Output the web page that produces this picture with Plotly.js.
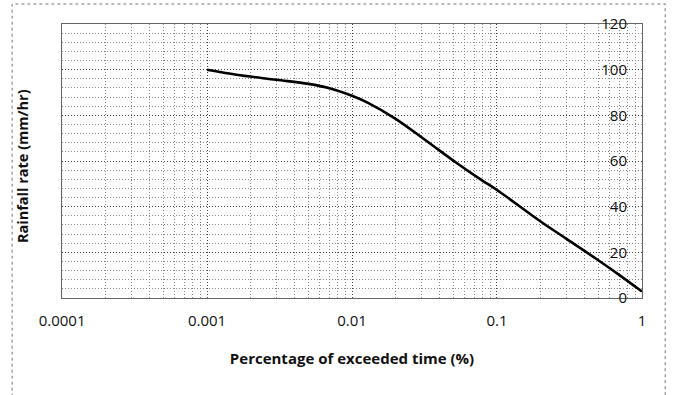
<!DOCTYPE html>
<html>
<head>
<meta charset="utf-8">
<script src="https://cdn.plot.ly/plotly-3.0.1.min.js"></script>
<style>html,body{margin:0;padding:0;background:#fff;}#chart{width:674px;height:395px;}</style>
</head>
<body>
<div id="chart"></div>
<script>
// Data
var exceededTime = [0.001, 0.0016, 0.003, 0.005, 0.007, 0.01, 0.013, 0.02, 0.032, 0.053, 0.078, 0.1, 0.2, 0.3, 0.5, 0.7, 1];
var rainfallRate = [100, 97.8, 95.6, 93.8, 91.9, 88.6, 85.4, 78.5, 69.2, 59, 51.7, 47.3, 33.5, 26, 16.5, 10, 2.8];
var xTickVals = [0.0001, 0.001, 0.01, 0.1, 1];
var xTickText = ['0.0001', '0.001', '0.01', '0.1', '1'];
var xMinorVals = [];
for (var d = -4; d < 0; d++) {
  for (var m = 2; m <= 9; m++) xMinorVals.push(m * Math.pow(10, d));
}

var fontFam = '"Open Sans", Lato, sans-serif';
var dotDash = '1px,2px';

var trace = {
  x: exceededTime,
  y: rainfallRate,
  type: 'scatter',
  mode: 'lines',
  line: {color: '#000', width: 2.6, shape: 'spline', smoothing: 1},
  hoverinfo: 'x+y'
};

var layout = {
  width: 674,
  height: 395,
  margin: {l: 62, r: 32, t: 24, b: 97},
  paper_bgcolor: '#fff',
  plot_bgcolor: '#fff',
  showlegend: false,
  font: {family: fontFam, color: '#111', size: 14},
  xaxis: {
    type: 'log',
    range: [-4.0005, 0.0005],
    tickmode: 'array',
    tickvals: xTickVals,
    ticktext: xTickText,
    ticks: '',
    ticklabelstandoff: 9,
    ticklabeloverflow: 'allow',
    tickfont: {size: 15, family: fontFam, color: '#111'},
    showgrid: true,
    gridcolor: '#444',
    griddash: dotDash,
    gridwidth: 1,
    minor: {tickmode: 'array', tickvals: xMinorVals, showgrid: true, gridcolor: '#888', griddash: dotDash, gridwidth: 1, ticks: ''},
    showline: true,
    linecolor: '#666',
    linewidth: 1,
    mirror: true,
    zeroline: false,
    title: {text: '<b>Percentage of exceeded time (%)</b>', font: {size: 15, family: fontFam, color: '#111'}, standoff: 24}
  },
  yaxis: {
    range: [-0.05, 120.05],
    dtick: 20,
    side: 'right',
    ticklabelposition: 'inside',
    ticklabeloverflow: 'allow',
    ticks: '',
    ticklabelstandoff: 15,
    tickfont: {size: 15, family: fontFam, color: '#111'},
    showgrid: true,
    gridcolor: '#444',
    griddash: dotDash,
    gridwidth: 1,
    minor: {dtick: 4, showgrid: true, gridcolor: '#888', griddash: dotDash, gridwidth: 1, ticks: ''},
    showline: true,
    linecolor: '#666',
    linewidth: 1,
    mirror: true,
    zeroline: false
  },
  annotations: [{
    text: '<b>Rainfall rate (mm/hr)</b>',
    xref: 'paper', yref: 'paper',
    x: -0.068, y: 0.48,
    xanchor: 'center', yanchor: 'middle',
    textangle: -90,
    showarrow: false,
    font: {size: 14.5, family: fontFam, color: '#111'}
  }],
  shapes: [{
    type: 'rect',
    xref: 'paper', yref: 'paper',
    x0: -0.086, x1: 1.04, y0: -0.38, y1: 1.073,
    line: {color: '#777', width: 1, dash: 'dot'},
    fillcolor: 'rgba(0,0,0,0)'
  }]
};

Plotly.newPlot('chart', [trace], layout, {displayModeBar: false, staticPlot: true});
</script>
</body>
</html>
